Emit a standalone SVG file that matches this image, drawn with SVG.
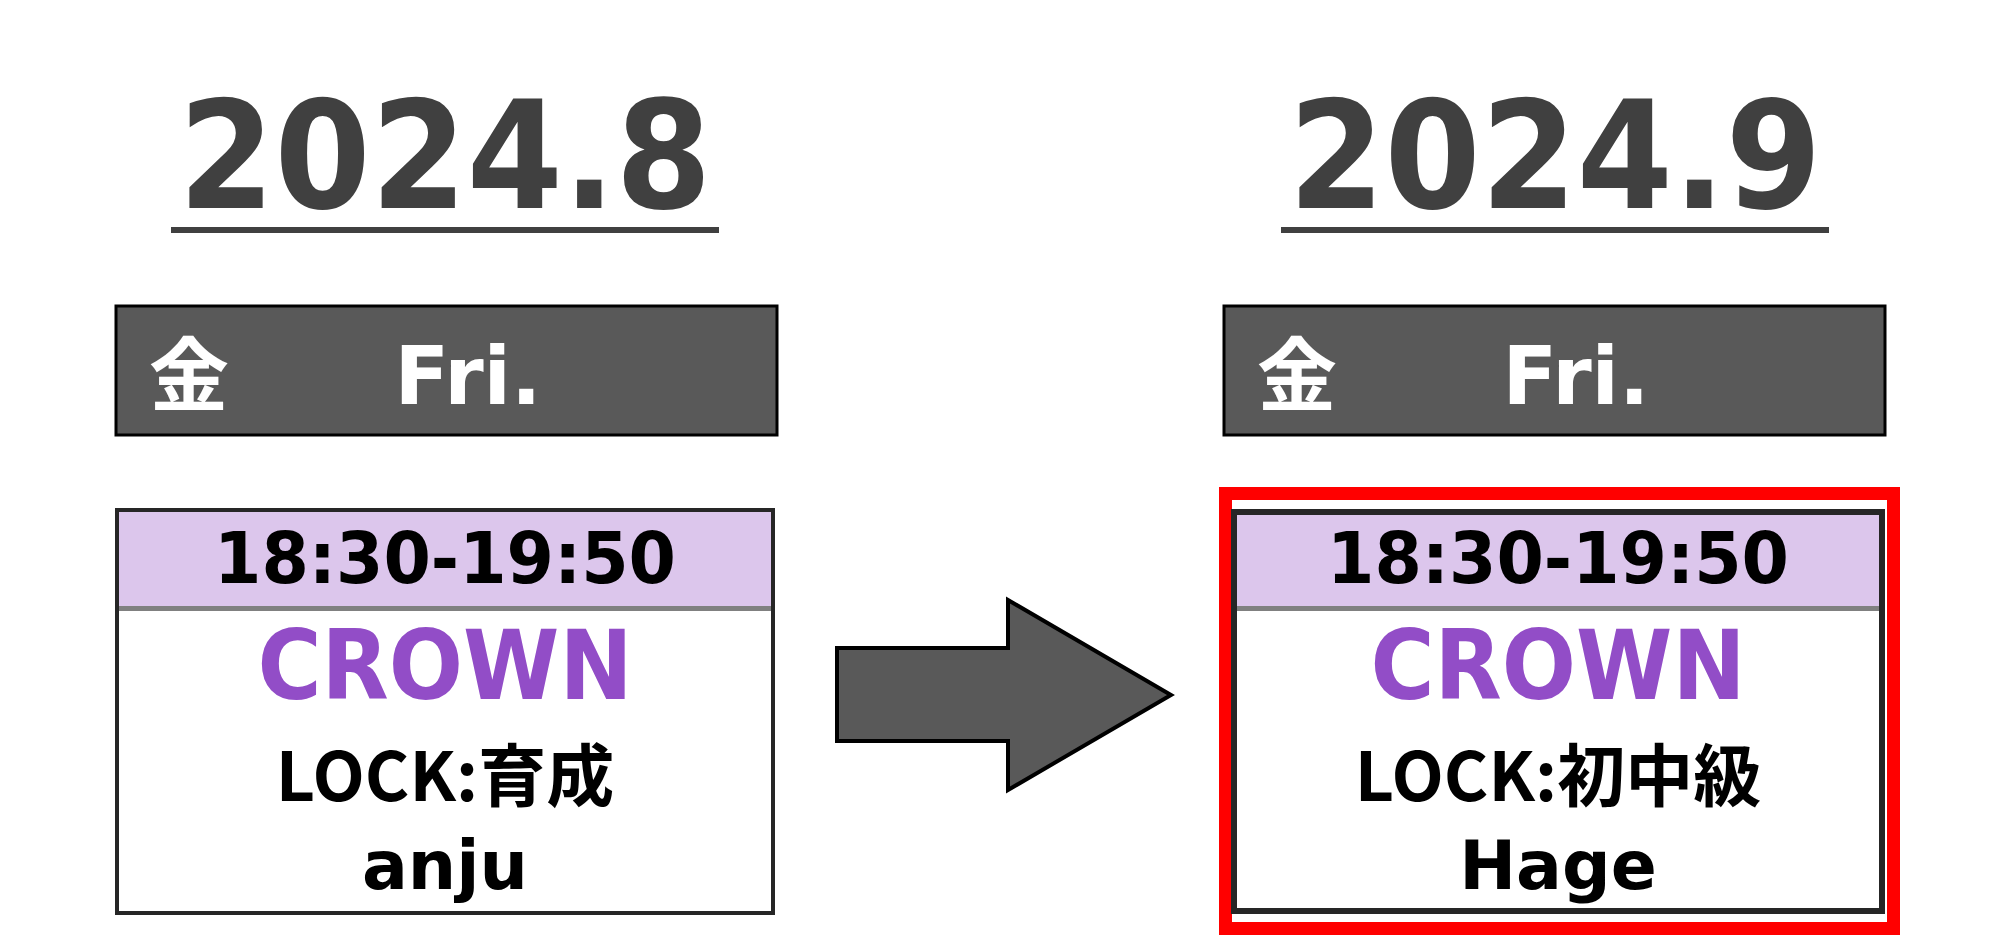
<svg xmlns="http://www.w3.org/2000/svg" width="2000" height="935" viewBox="0 0 2000 935">
<style>
text{font-family:"DejaVu Sans","Noto Sans CJK JP",sans-serif;font-weight:bold;text-anchor:middle}
.title{font-size:150px;fill:#404040}
.day{fill:#595959;stroke:#000;stroke-width:3}
.dayt{fill:#fff;font-size:80px}
.head{fill:#dcc6ec}
.time{font-size:72px;fill:#000}
.crown{font-size:96px;fill:#924dc7}
.lock{font-size:68px;fill:#000;font-family:"Noto Sans CJK JP","DejaVu Sans",sans-serif}
.name{font-size:68px;fill:#000}
</style>
<rect width="2000" height="935" fill="#fff"/>
<g id="title-left"><text class="title" x="445" y="208" textLength="533" lengthAdjust="spacingAndGlyphs">2024.8</text><rect x="171" y="227" width="548" height="6" fill="#404040"/></g>
<g id="title-right"><text class="title" x="1555" y="208" textLength="533" lengthAdjust="spacingAndGlyphs">2024.9</text><rect x="1281" y="227" width="548" height="6" fill="#404040"/></g>
<g id="day-left"><rect class="day" x="116" y="306" width="661" height="129"/><text class="dayt" x="189" y="404" style="font-family:'Noto Sans CJK JP',sans-serif;font-size:80px">金</text><text class="dayt" x="468" y="404">Fri.</text></g>
<g id="day-right"><rect class="day" x="1224" y="306" width="661" height="129"/><text class="dayt" x="1297" y="404" style="font-family:'Noto Sans CJK JP',sans-serif;font-size:80px">金</text><text class="dayt" x="1576" y="404">Fri.</text></g>
<g id="card-left">
<rect x="117" y="510" width="656" height="403" fill="#fff" stroke="#262626" stroke-width="4"/>
<rect class="head" x="119" y="512" width="652" height="96"/>
<rect x="119" y="606" width="652" height="5" fill="#808080"/>
<text class="time" x="445" y="583" textLength="462" lengthAdjust="spacingAndGlyphs">18:30-19:50</text>
<text class="crown" x="445" y="699" textLength="375" lengthAdjust="spacingAndGlyphs">CROWN</text>
<text class="lock" x="445" y="801">LOCK:育成</text>
<text class="name" x="445" y="889">anju</text>
</g>
<g id="card-right">
<rect x="1225.5" y="493.5" width="668" height="435" fill="none" stroke="#f00" stroke-width="13"/>
<rect x="1234" y="512" width="648" height="399" fill="#fff" stroke="#262626" stroke-width="6"/>
<rect class="head" x="1237" y="515" width="642" height="93"/>
<rect x="1237" y="606" width="642" height="5" fill="#808080"/>
<text class="time" x="1558" y="583" textLength="462" lengthAdjust="spacingAndGlyphs">18:30-19:50</text>
<text class="crown" x="1558" y="699" textLength="375" lengthAdjust="spacingAndGlyphs">CROWN</text>
<text class="lock" x="1558" y="801">LOCK:初中級</text>
<text class="name" x="1558" y="889">Hage</text>
</g>
<g id="connectors"><polygon points="837,648 1008,648 1008,600 1171,695 1008,790 1008,741 837,741" fill="#595959" stroke="#000" stroke-width="4"/></g>
</svg>
